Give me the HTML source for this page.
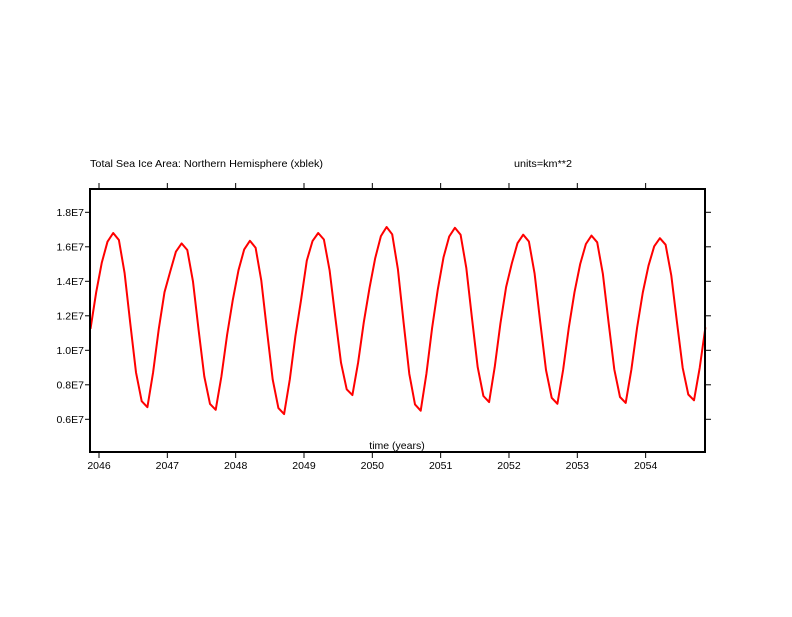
<!DOCTYPE html>
<html><head><style>
html,body{margin:0;padding:0;background:#fff;}
svg text{font-family:"Liberation Sans",sans-serif;font-size:10.5px;fill:#000;}
</style></head><body>
<svg id="s" width="792" height="612" xmlns="http://www.w3.org/2000/svg">
<text x="90" y="167" textLength="233" lengthAdjust="spacingAndGlyphs">Total Sea Ice Area: Northern Hemisphere (xblek)</text>
<text x="514" y="167" textLength="58" lengthAdjust="spacingAndGlyphs">units=km**2</text>
<g id="ax"></g>
<polyline id="line" fill="none" stroke="#f00" stroke-width="2" stroke-linejoin="round"/>
<rect x="90" y="189" width="615" height="263" fill="none" stroke="#000" stroke-width="2"/>
<text x="397" y="449" text-anchor="middle">time (years)</text>
</svg>
<script>
var ax=document.getElementById('ax'),h='';
function X(t){return 99+68.33*(t-2046);}
function Y(v){return 419.3-(v-6)*17.25;}
for(var k=0;k<9;k++){var x=X(2046+k);
h+='<line x1="'+x+'" y1="183" x2="'+x+'" y2="189" stroke="#000"/>';
h+='<line x1="'+x+'" y1="452" x2="'+x+'" y2="458" stroke="#000"/>';
h+='<text x="'+x+'" y="469" text-anchor="middle">'+(2046+k)+'</text>';}
var labs=['0.6E7','0.8E7','1.0E7','1.2E7','1.4E7','1.6E7','1.8E7'];
for(var i=0;i<7;i++){var y=Y(6+2*i);
h+='<line x1="85" y1="'+y+'" x2="90" y2="'+y+'" stroke="#000"/>';
h+='<line x1="705" y1="'+y+'" x2="711" y2="'+y+'" stroke="#000"/>';
h+='<text x="84" y="'+(y+3.5)+'" text-anchor="end">'+labs[i]+'</text>';}
ax.innerHTML=h;
var pk=[16.8,16.8,16.2,16.35,16.8,17.15,17.1,16.7,16.65,16.5];
var mn=[6.7,6.7,6.55,6.3,7.4,6.5,7.0,6.9,6.95,7.1];
var sh=[.83,.95,1.0,.96,.77,.48,.20,.02,0,.20,.45,.66];
var pts=[];
for(var yr=2045;yr<=2054;yr++){for(var m=0;m<12;m++){var t=yr+(m+0.5)/12;
if(t<2045.86||t>2054.9)continue;var i2=yr-2045;
var v=mn[i2]+(pk[i2]-mn[i2])*sh[m];
if(m==7)v+=0.15;
pts.push(X(t).toFixed(1)+','+Y(v).toFixed(1));}}
document.getElementById('line').setAttribute('points',pts.join(' '));
</script>
</body></html>
